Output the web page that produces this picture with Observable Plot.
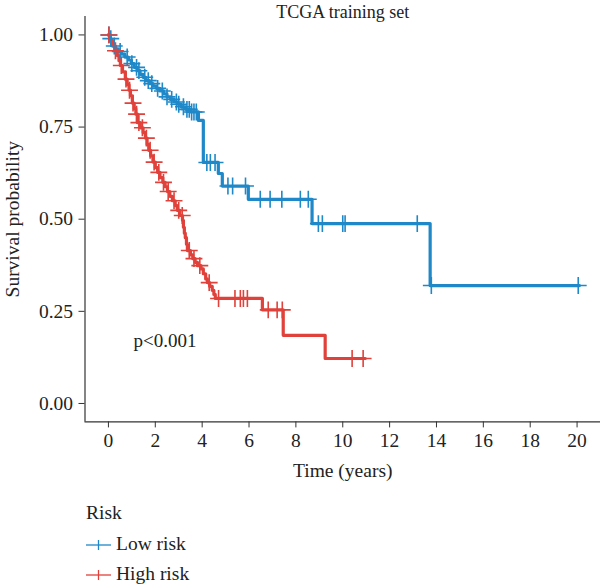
<!DOCTYPE html>
<html>
<head>
<meta charset="utf-8">
<script src="https://cdn.jsdelivr.net/npm/d3@7"></script>
<script src="https://cdn.jsdelivr.net/npm/@observablehq/plot@0.6"></script>
<style>
  html, body { margin: 0; padding: 0; background: #fff; }
  #wrap { position: relative; width: 600px; height: 588px; font-family: "Liberation Serif", "DejaVu Serif", serif; color: #222; }
  #wrap svg g[aria-label$="tick label"] { font-size: 19.5px; }
  .leg { position: absolute; left: 86px; font-size: 19.5px; line-height: 22px; white-space: nowrap; }
  .leg svg { vertical-align: middle; margin-right: 5px; position: relative; top: -1px; }
</style>
</head>
<body>
<div id="wrap"></div>
<script>
// Kaplan–Meier curves, TCGA training set, by risk group
const groups = ["Low risk", "High risk"];
const colors = ["#1f88c8", "#e0423b"];

// Step points [time (years), survival] — survival after each event time
const lowSteps = [
  [0, 1], [0.05, 0.99], [0.12, 0.98], [0.2, 0.97], [0.3, 0.962], [0.42, 0.955],
  [0.55, 0.948], [0.7, 0.94], [0.85, 0.932], [0.98, 0.922], [1.1, 0.912],
  [1.22, 0.903], [1.35, 0.893], [1.48, 0.885], [1.6, 0.876], [1.75, 0.868],
  [1.9, 0.861], [2.05, 0.855], [2.2, 0.848], [2.35, 0.84], [2.5, 0.832],
  [2.65, 0.825], [2.8, 0.818], [2.95, 0.812], [3.1, 0.805], [3.3, 0.798],
  [3.5, 0.791], [3.84, 0.768], [4.05, 0.654], [4.69, 0.624], [4.86, 0.59],
  [5.97, 0.554], [8.69, 0.488], [13.73, 0.32], [20.1, 0.32]
];
const highSteps = [
  [0, 1], [0.08, 0.985], [0.17, 0.97], [0.27, 0.957], [0.38, 0.944], [0.45, 0.93],
  [0.51, 0.917], [0.6, 0.9], [0.72, 0.88], [0.8, 0.865], [0.88, 0.85], [0.94, 0.835],
  [1.02, 0.815], [1.1, 0.8], [1.17, 0.785], [1.24, 0.762], [1.36, 0.748],
  [1.48, 0.735], [1.58, 0.72], [1.65, 0.703], [1.72, 0.687], [1.8, 0.672],
  [1.9, 0.655], [2.0, 0.64], [2.1, 0.627], [2.2, 0.613], [2.32, 0.6], [2.42, 0.588],
  [2.52, 0.575], [2.62, 0.562], [2.73, 0.55], [2.85, 0.537], [2.94, 0.524],
  [3.05, 0.51], [3.16, 0.497], [3.2, 0.478], [3.24, 0.462], [3.28, 0.45],
  [3.33, 0.432], [3.37, 0.415], [3.5, 0.403], [3.6, 0.393], [3.7, 0.383],
  [3.8, 0.374], [3.95, 0.365], [4.05, 0.352], [4.15, 0.338], [4.22, 0.328],
  [4.32, 0.318], [4.43, 0.307], [4.5, 0.296], [4.56, 0.285], [6.57, 0.254],
  [7.46, 0.185], [9.25, 0.122], [10.96, 0.122]
];

// Censoring times (years)
const lowCensor = [
  0.02, 0.1, 0.25, 0.5, 0.8, 1.0, 1.2, 1.3, 1.55, 1.7, 1.85, 2.1, 2.3, 2.5, 2.7,
  2.9, 3.0, 3.2, 3.35, 3.45, 3.55, 3.65, 3.75, 4.2, 4.35, 4.55, 5.1, 5.3, 5.85,
  6.48, 6.9, 7.4, 8.19, 8.53, 8.96, 9.13, 10.0, 10.1, 13.18, 13.78, 20.05
];
const highCensor = [
  0.02, 0.3, 0.55, 0.75, 0.9, 1.05, 1.2, 1.3, 1.45, 1.62, 1.78, 1.95, 2.15, 2.35,
  2.55, 2.8, 3.0, 3.15, 3.45, 3.65, 3.9, 4.3, 4.7, 5.4, 5.63, 5.76, 5.93, 6.82,
  7.2, 7.42, 10.4, 10.87
];

const xTicks = [0, 2, 4, 6, 8, 10, 12, 14, 16, 18, 20];
const yTicks = [0, 0.25, 0.5, 0.75, 1];
const pLabel = "p<0.001";

// survival value of a step curve at time t
function survAt(steps, t) {
  let s = steps[0][1];
  for (const [ti, si] of steps) { if (ti <= t) s = si; else break; }
  return s;
}

const curves = [
  ...lowSteps.map(([t, s]) => ({group: groups[0], t, s})),
  ...highSteps.map(([t, s]) => ({group: groups[1], t, s}))
];
const censors = [
  ...lowCensor.map(t => ({group: groups[0], t, s: survAt(lowSteps, t)})),
  ...highCensor.map(t => ({group: groups[1], t, s: survAt(highSteps, t)}))
];

const font = "'Liberation Serif', 'DejaVu Serif', serif";

const chart = Plot.plot({
  width: 600,
  height: 488,
  marginLeft: 84.5,
  marginRight: 0,
  marginTop: 16,
  marginBottom: 66.6,
  style: {fontFamily: font, fontSize: "18px", color: "#222", background: "#fff"},
  x: {domain: [-1, 21]},
  y: {domain: [-0.05, 1.05]},
  color: {domain: groups, range: colors},
  marks: [
    Plot.axisX({ticks: xTicks, tickSize: 6, tickPadding: 5, label: null, tickFormat: d3.format("d"), stroke: "#333"}),
    Plot.axisY({ticks: yTicks, tickSize: 6, tickPadding: 6, label: null, tickFormat: d3.format(".2f"), stroke: "#333"}),
    Plot.ruleX([-1], {stroke: "#333", strokeWidth: 1.2}),
    Plot.ruleY([-0.05], {stroke: "#333", strokeWidth: 1.2}),
    Plot.line(curves, {x: "t", y: "s", z: "group", stroke: "group", curve: "step-after", strokeWidth: 3.2}),
    Plot.dot(censors, {x: "t", y: "s", stroke: "group", symbol: "plus", r: 5.5, strokeWidth: 1.6}),
    Plot.text([pLabel], {x: 1.07, y: 0.171, text: d => d, textAnchor: "start", fontSize: 19, fill: "#222"}),
    Plot.text(["TCGA training set"], {frameAnchor: "top", lineAnchor: "middle", dy: -4, text: d => d, fontSize: 18, fill: "#222"}),
    Plot.text(["Time (years)"], {frameAnchor: "bottom", lineAnchor: "middle", dy: 49, text: d => d, fontSize: 19.5, fill: "#222"}),
    Plot.text(["Survival probability"], {frameAnchor: "left", dx: -72, rotate: -90, textAnchor: "middle", text: d => d, fontSize: 19.5, fill: "#222"})
  ]
});

const wrap = document.getElementById("wrap");
wrap.appendChild(chart);

// legend below the plot
function legendRow(top, html) {
  const d = document.createElement("div");
  d.className = "leg";
  d.style.top = top + "px";
  d.innerHTML = html;
  wrap.appendChild(d);
}
function key(color) {
  return `<svg width="25" height="14"><line x1="0" x2="25" y1="7" y2="7" stroke="${color}" stroke-width="1.3"/>` +
         `<line x1="12.5" x2="12.5" y1="2" y2="12" stroke="${color}" stroke-width="1.3"/></svg>`;
}
legendRow(502, "Risk");
groups.forEach((g, i) => legendRow(533 + i * 30, key(colors[i]) + g));
</script>
</body>
</html>
